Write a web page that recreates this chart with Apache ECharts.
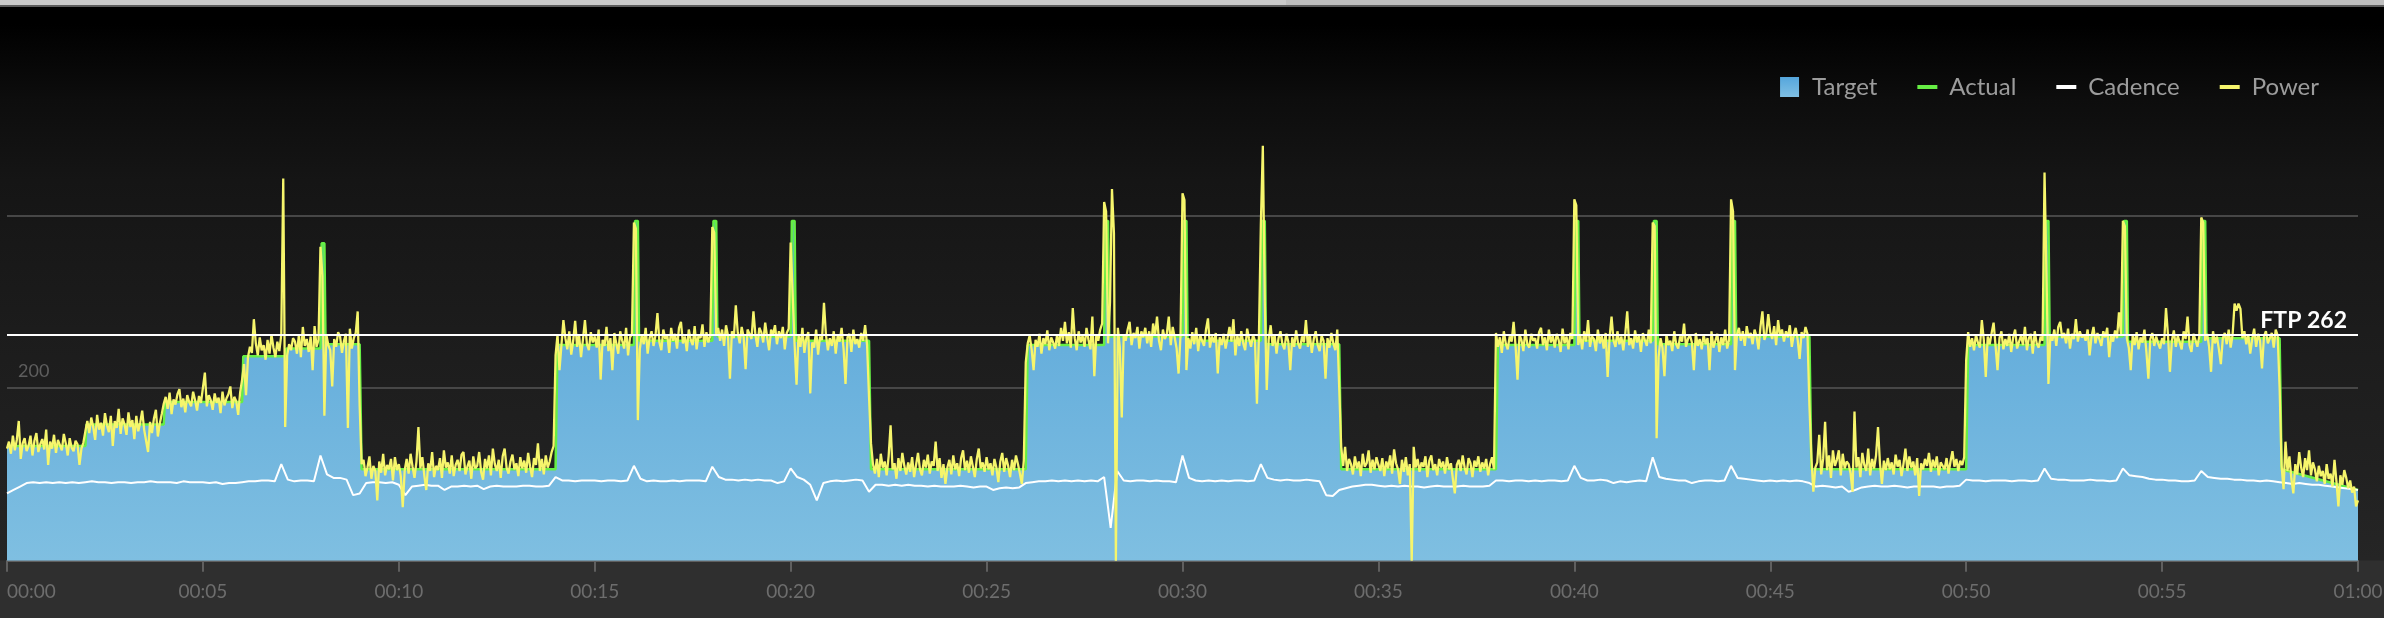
<!DOCTYPE html>
<html><head><meta charset="utf-8">
<script src="https://cdn.jsdelivr.net/npm/echarts@6/dist/echarts.min.js"></script>
<style>
html,body{margin:0;padding:0;width:2384px;height:618px;overflow:hidden;}
body{position:relative;background:linear-gradient(to bottom,#000 0px,#000 24px,#0d0d0d 100px,#151515 180px,#1c1c1c 330px,#212121 470px,#252525 560px,#2f2f2f 561px,#2f2f2f 618px);}
#bar1{position:absolute;left:0;top:0;width:1286px;height:5px;background:#cacaca;}
#bar2{position:absolute;left:1286px;top:0;width:1098px;height:5px;background:#bebebe;}
#bar3{position:absolute;left:0;top:5px;width:2384px;height:2px;background:#5c5c5c;}
#chart{position:absolute;left:0;top:0;width:2384px;height:618px;}
</style></head>
<body>
<div id="bar1"></div><div id="bar2"></div><div id="bar3"></div>
<div id="chart"></div>
<script>
// ---------- data ----------
const ftp = 262;
const legendNames = ['Target', 'Actual', 'Cadence', 'Power'];
const tickLabels = ['00:00','00:05','00:10','00:15','00:20','00:25','00:30','00:35','00:40','00:45','00:50','00:55','01:00'];
const yLabelShown = [200];

// target / actual breakpoints (minute, watts)
const targetMin = [0,2,2.03,4,4.03,6,6.03,7.1,7.13,8,8.03,8.1,8.13,9,9.05,
  14,14.05,16,16.03,16.1,16.13,18,18.03,18.1,18.13,20,20.03,20.1,20.13,22,22.05,
  26,26.05,28,28.03,28.1,28.13,30,30.03,30.1,30.13,32,32.03,32.1,32.13,34,34.05,
  38,38.05,40,40.03,40.1,40.13,42,42.03,42.1,42.13,44,44.03,44.1,44.13,46,46.05,
  50,50.05,52,52.03,52.1,52.13,54,54.03,54.1,54.13,56,56.03,56.1,56.13,58,58.05,60];
const targetWatts = [133,133,158,158,184,184,237,237,246,246,368,368,251,251,106,
  106,250,250,394,394,255,255,394,394,260,260,394,394,255,255,106,
  106,250,250,394,394,260,260,394,394,255,255,394,394,251,251,106,
  106,250,250,394,394,255,255,394,394,251,251,394,394,260,260,106,
  106,250,250,394,394,260,260,394,394,254,254,394,394,258,258,106,82];
const actualWatts = targetWatts.slice();

// power, one sample every 3 s (20 per minute)
const powerStepMin = 3 / 60;
const power = [
130,138,124,145,128,140,162,118,136,142,127,133,145,122,139,148,126,135,141,129,
152,111,138,130,146,125,140,134,128,147,136,122,142,131,127,139,135,111,130,137,
150,162,148,166,155,140,169,152,160,145,171,157,149,168,133,162,154,176,147,165,
158,146,172,155,163,141,168,150,160,174,152,139,126,161,148,165,175,144,159,170,
182,190,176,195,170,187,181,193,199,178,188,172,192,184,179,196,186,174,191,183,
185,218,179,192,186,175,194,183,189,171,196,180,188,193,202,177,190,185,169,195,
210,228,192,236,248,241,280,252,238,259,244,250,233,256,240,262,247,236,254,243,
262,443,155,238,251,244,258,254,240,262,236,271,249,257,242,260,221,272,248,256,
364,330,168,262,250,244,202,257,248,265,260,241,255,263,154,269,246,258,264,289,
180,112,117,98,108,121,95,110,104,70,115,102,124,99,111,106,118,93,120,105,
112,98,62,105,118,101,124,109,96,115,155,107,120,99,82,113,104,126,97,110,
105,119,96,128,108,114,101,122,98,111,117,104,123,126,100,109,116,95,121,107,
110,126,103,94,118,107,122,99,130,112,104,117,96,121,130,108,101,115,123,106,
113,98,120,107,116,102,125,109,97,119,111,136,104,118,100,122,108,115,126,133,
238,262,221,250,279,258,245,266,239,255,278,248,262,236,257,279,251,244,265,253,
260,247,268,210,256,249,271,243,258,221,264,252,240,266,255,246,270,238,259,263,
392,385,163,245,262,251,270,240,258,266,249,261,287,253,244,268,257,262,241,270,
255,263,246,270,277,252,260,243,268,256,250,272,245,262,258,274,248,265,253,261,
387,380,262,270,255,268,249,273,261,211,266,258,296,264,252,271,259,222,268,263,
257,289,262,248,270,265,253,276,259,244,268,262,273,251,266,258,271,245,264,269,
369,368,251,204,262,248,270,241,258,265,194,253,247,268,239,260,256,299,262,244,
258,249,266,240,261,254,270,246,205,259,263,242,268,251,257,247,264,255,273,250,
190,136,112,101,118,97,124,108,115,99,121,157,106,113,95,119,104,125,110,100,
114,103,120,97,111,125,106,99,117,108,123,101,115,110,138,104,119,96,112,89,
108,117,100,122,106,113,98,119,128,105,116,102,121,109,97,118,130,107,114,103,
120,106,113,99,118,108,91,115,125,103,119,110,97,117,105,122,112,101,89,116,
230,252,261,245,221,256,248,263,240,258,251,267,244,259,253,246,262,249,270,255,
277,252,265,247,293,258,244,266,253,261,248,270,256,245,283,214,262,255,268,275,
416,405,252,300,431,380,0,270,248,166,262,255,268,277,250,264,258,271,246,266,
259,270,252,266,248,275,261,283,255,244,268,257,263,283,250,271,259,246,217,262,
426,418,221,258,246,265,251,270,243,262,255,249,268,281,247,260,253,264,217,259,
250,263,246,258,271,254,280,238,261,249,266,252,244,269,257,248,262,255,182,259,
390,481,300,198,257,273,249,262,240,258,266,251,245,263,254,221,259,248,267,252,
246,260,253,279,248,262,241,257,266,250,243,261,255,211,258,247,264,252,244,268,
200,132,110,132,104,118,112,100,121,107,115,98,124,109,113,128,102,117,106,120,
111,104,119,98,115,107,122,101,129,113,106,89,117,103,120,99,112,0,132,108,
118,103,114,109,121,97,116,122,105,112,99,118,108,115,101,120,106,113,95,78,
111,117,104,122,108,100,119,113,97,116,109,121,103,114,107,118,99,112,120,106,
264,248,259,241,266,252,245,260,254,277,249,210,262,256,243,268,251,247,263,255,
258,246,265,270,250,259,244,268,253,261,247,263,256,242,269,252,260,245,264,257,
419,412,250,262,245,266,254,279,248,260,257,243,268,252,261,246,264,213,259,283,
255,248,266,251,260,244,263,289,250,258,246,267,253,261,242,264,256,249,268,252,
392,388,142,236,258,247,214,262,250,255,243,266,251,246,260,254,275,248,257,262,
253,221,264,249,257,245,262,251,258,221,266,247,255,263,242,259,250,268,246,256,
419,405,221,262,270,255,266,249,272,258,264,251,268,260,245,271,289,256,263,286,
265,257,272,250,279,261,268,254,266,259,273,248,262,270,256,234,265,258,271,263,
180,120,80,108,114,146,100,118,161,105,122,96,128,110,117,128,99,124,107,115,
112,101,80,173,108,120,97,125,111,104,130,99,118,107,122,155,113,89,116,105,
119,106,114,100,123,109,117,98,112,130,104,121,108,115,99,119,75,113,106,118,
110,125,103,117,108,121,99,114,112,106,119,101,115,127,109,118,104,116,111,120,
232,265,248,258,244,262,253,247,279,256,213,260,251,264,276,249,221,258,266,245,
257,249,263,242,259,268,246,254,261,250,271,244,258,263,240,266,252,247,260,255,
450,330,205,262,255,268,249,271,277,258,264,252,269,246,263,257,280,254,266,259,
262,255,268,238,260,271,252,264,257,249,266,259,270,236,261,254,267,258,288,263,
394,388,258,247,221,262,250,265,245,259,253,268,242,211,257,264,249,260,252,246,
258,251,293,262,219,255,267,248,261,253,245,266,257,283,250,242,263,256,248,260,
398,392,255,263,248,219,266,252,260,245,228,258,264,251,268,247,262,298,290,298,
292,258,266,251,262,240,257,269,248,263,255,223,260,266,252,258,264,247,268,261,
200,110,83,138,104,121,95,78,112,100,126,108,97,119,105,128,99,114,106,92,
110,98,104,89,112,95,101,86,117,92,63,99,88,105,96,84,93,79,86,63,
70];

// cadence, one sample every 10 s (6 per minute)
const cadenceStepMin = 10 / 60;
const cadence = [
78,82,86,90,91,90, 91,90,91,90,91,90, 91,92,91,91,90,91, 91,90,91,91,92,91,
91,91,90,92,91,91, 91,90,91,89,90,90, 91,92,92,93,93,92, 112,94,92,93,93,92,
122,100,96,96,94,76, 78,90,91,91,90,91, 88,76,86,87,88,87, 87,82,86,86,87,86,
87,83,86,87,86,86, 86,87,87,86,86,87, 97,93,93,92,93,93, 93,92,93,93,92,93,
110,95,92,93,92,92, 93,92,93,93,93,92, 109,97,94,94,93,94, 93,94,93,93,90,92,
107,97,94,88,70,90, 92,93,92,93,94,93, 80,88,88,87,88,87, 88,87,87,86,87,86,
86,86,87,86,85,86, 86,82,84,85,84,85, 90,91,92,92,93,92, 93,92,93,92,93,92,
97,38,104,93,92,93, 93,92,93,92,92,91, 122,96,93,92,93,92, 93,92,93,93,92,93,
112,96,94,93,94,93, 93,94,93,92,76,75, 82,84,86,87,88,88, 87,86,87,86,87,86,
86,85,86,87,86,86, 86,87,86,86,86,87, 93,93,92,93,93,92, 93,92,93,93,92,93,
110,96,93,93,94,93, 90,92,91,92,93,92, 120,97,95,94,93,93, 90,92,93,93,92,93,
110,96,95,94,93,92, 93,92,93,92,93,92, 90,86,87,86,85,86, 80,82,85,86,87,86,
86,87,86,85,86,86, 86,86,85,86,86,87, 94,93,93,92,93,93, 93,92,93,93,92,93,
107,95,94,94,93,93, 93,94,93,93,92,93, 107,99,98,97,95,94, 94,93,93,92,92,93,
104,97,96,95,95,94, 94,93,93,92,93,92, 91,90,89,90,89,88, 88,87,86,85,84,83,
82];

// ---------- build ----------
const targetData = targetMin.map((m, i) => [m, targetWatts[i]]);
const actualData = targetMin.map((m, i) => [m, actualWatts[i]]);
const powerData = power.map((w, i) => [i * powerStepMin, w]);
const cadenceData = cadence.map((c, i) => [i * cadenceStepMin, c]);

const FONT = 'Lato';
const blueFill = new echarts.graphic.LinearGradient(0, 0, 0, 1, [
  { offset: 0, color: '#58a5d9' }, { offset: 1, color: '#7fbfe1' }]);
const blueIcon = new echarts.graphic.LinearGradient(0, 0, 0, 1, [
  { offset: 0, color: '#55a6dc' }, { offset: 1, color: '#80c0e4' }]);
const iconSquare = 'path://M0,0h19v20h-19z M27,0L27,0.01 M27,20L27,19.99';
const iconBar = 'path://M0,8h20v4h-20z M27,0L27,0.01 M27,20L27,19.99';
const colors = { Target: '#5eaadc', Actual: '#66ee44', Cadence: '#ffffff', Power: '#f6f56c' };

const chart = echarts.init(document.getElementById('chart'), null, { renderer: 'canvas' });
chart.setOption({
  animation: false,
  backgroundColor: 'transparent',
  grid: { left: 7, right: 26, top: 43.2, bottom: 57.3, containLabel: false, outerBoundsMode: 'none' },
  legend: {
    right: 60, top: 70, itemWidth: 27, itemHeight: 20, itemGap: 40,
    textStyle: { color: '#9c9c9c', fontSize: 24, fontFamily: FONT },
    itemStyle: { borderWidth: 0 },
    selectedMode: false,
    data: [
      { name: legendNames[0], icon: iconSquare, itemStyle: { color: blueIcon } },
      { name: legendNames[1], icon: iconBar, itemStyle: { color: colors.Actual } },
      { name: legendNames[2], icon: iconBar, itemStyle: { color: colors.Cadence } },
      { name: legendNames[3], icon: iconBar, itemStyle: { color: colors.Power } }
    ]
  },
  xAxis: {
    type: 'value', min: 0, max: 60, interval: 5,
    axisLine: { show: true, lineStyle: { color: '#5f5f5f', width: 2 } },
    axisTick: { show: true, length: 11, lineStyle: { color: '#5f5f5f', width: 2 } },
    splitLine: { show: false },
    axisLabel: {
      color: '#6d6d6d', fontSize: 19, fontFamily: FONT, margin: 22,
      alignMinLabel: 'left',
      formatter: v => tickLabels[Math.round(v / 5)]
    }
  },
  yAxis: {
    type: 'value', min: 0, max: 600, interval: 200,
    axisLine: { show: false }, axisTick: { show: false },
    splitLine: { show: true, showMinLine: false, showMaxLine: false, lineStyle: { color: '#474747', width: 2 } },
    axisLabel: {
      inside: true, margin: 11, color: '#5e5e5e', fontSize: 18, fontFamily: FONT,
      verticalAlign: 'bottom', padding: [0, 0, 8, 0],
      formatter: v => (yLabelShown.indexOf(v) >= 0 ? String(v) : '')
    }
  },
  series: [
    {
      name: legendNames[0], type: 'line', data: targetData, symbol: 'none', z: 1,
      itemStyle: { color: colors.Target },
      lineStyle: { width: 0, opacity: 0 },
      areaStyle: { color: blueFill, opacity: 1 }
    },
    {
      name: legendNames[1], type: 'line', data: actualData, symbol: 'none', z: 2,
      itemStyle: { color: colors.Actual },
      lineStyle: { color: colors.Actual, width: 2.5 }
    },
    {
      name: legendNames[2], type: 'line', data: cadenceData, symbol: 'none', z: 3,
      itemStyle: { color: colors.Cadence },
      lineStyle: { color: colors.Cadence, width: 2 }
    },
    {
      name: legendNames[3], type: 'line', data: powerData, symbol: 'none', z: 4,
      itemStyle: { color: colors.Power },
      lineStyle: { color: colors.Power, width: 2.3 },
      markLine: {
        silent: true, symbol: 'none', animation: false,
        lineStyle: { color: '#ffffff', width: 2, type: 'solid' },
        label: {
          show: true, position: 'insideEndTop', distance: [11, 3],
          formatter: 'FTP ' + ftp, color: '#ffffff', fontSize: 23,
          fontWeight: 'bold', fontFamily: FONT
        },
        data: [{ yAxis: ftp }]
      }
    }
  ]
});
</script>
</body></html>
